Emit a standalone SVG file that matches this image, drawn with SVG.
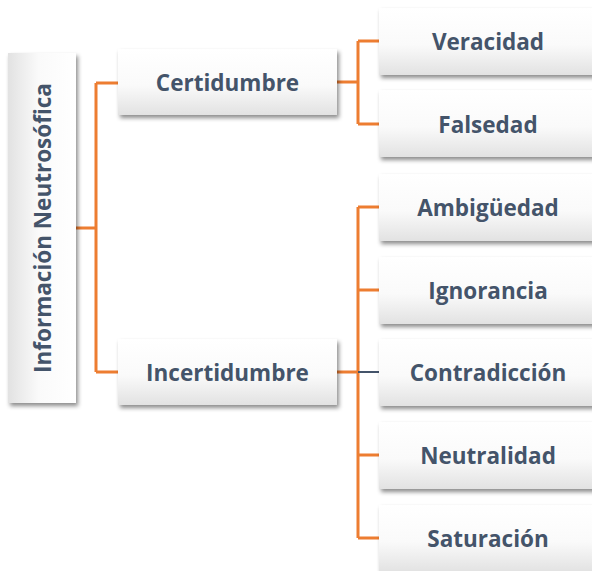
<svg xmlns="http://www.w3.org/2000/svg" width="592" height="571" viewBox="0 0 592 571">
<defs>
<linearGradient id="g" x1="0" y1="0" x2="0" y2="1">
<stop offset="0" stop-color="#ffffff"/>
<stop offset="0.55" stop-color="#fafafa"/>
<stop offset="1" stop-color="#e2e2e2"/>
</linearGradient>
<linearGradient id="gr" x1="1" y1="0" x2="0" y2="0">
<stop offset="0" stop-color="#ffffff"/>
<stop offset="0.55" stop-color="#fafafa"/>
<stop offset="1" stop-color="#e2e2e2"/>
</linearGradient>
<filter id="sh" x="-20%" y="-20%" width="140%" height="150%">
<feDropShadow dx="2" dy="3" stdDeviation="2" flood-color="#000" flood-opacity="0.45"/>
</filter>
</defs>
<style>
.box{fill:url(#g);filter:url(#sh)}
.t{font-family:"Open Sans","Liberation Sans",sans-serif;font-weight:bold;font-size:22.5px;fill:#44546A;text-anchor:middle;dominant-baseline:central}
.c{fill:none;stroke:#ED7D31;stroke-width:3}
</style>
<g id="connectors">
<path class="c" d="M76 228H96M96 83V372M96 83H118M96 372H118"/>
<path class="c" d="M337 82H358M358 41V124M358 41H379M358 124H379"/>
<path class="c" d="M337 372H358M358 207V538M358 207H379M358 290H379M358 455H379M358 538H379"/>
<path d="M358 372H379" fill="none" stroke="#44546A" stroke-width="2"/>
</g>
<g id="root">
<rect x="8" y="53" width="68" height="350" fill="url(#gr)" filter="url(#sh)"/>
<text class="t" transform="translate(42 228) rotate(-90)">Información Neutrosófica</text>
</g>
<g id="certidumbre">
<rect class="box" x="118" y="49" width="219" height="66"/>
<text class="t" x="227.500" y="82">Certidumbre</text>
</g>
<g id="incertidumbre">
<rect class="box" x="118" y="339" width="219" height="66"/>
<text class="t" x="227.500" y="372">Incertidumbre</text>
</g>
<g id="veracidad">
<rect class="box" x="379" y="8" width="219" height="67"/>
<text class="t" x="488" y="41">Veracidad</text>
</g>
<g id="falsedad">
<rect class="box" x="379" y="90" width="219" height="67"/>
<text class="t" x="488" y="124">Falsedad</text>
</g>
<g id="ambiguedad">
<rect class="box" x="379" y="174" width="219" height="67"/>
<text class="t" x="488" y="207">Ambigüedad</text>
</g>
<g id="ignorancia">
<rect class="box" x="379" y="257" width="219" height="67"/>
<text class="t" x="488" y="290">Ignorancia</text>
</g>
<g id="contradiccion">
<rect class="box" x="379" y="339" width="219" height="67"/>
<text class="t" x="488" y="372">Contradicción</text>
</g>
<g id="neutralidad">
<rect class="box" x="379" y="422" width="219" height="67"/>
<text class="t" x="488" y="455">Neutralidad</text>
</g>
<g id="saturacion">
<rect class="box" x="379" y="505" width="219" height="67"/>
<text class="t" x="488" y="538">Saturación</text>
</g>
</svg>
